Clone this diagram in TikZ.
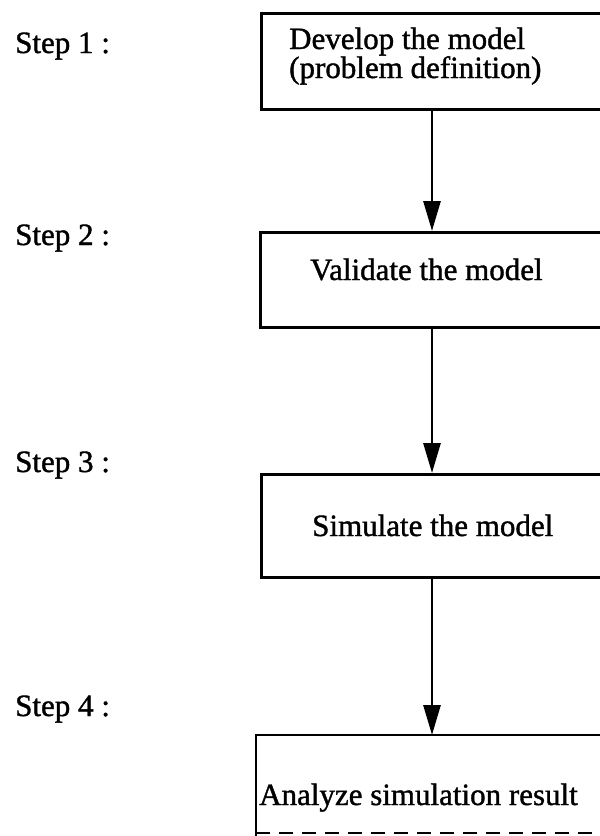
\documentclass[tikz,border=0pt]{standalone}
\usepackage{fontspec}
\setmainfont{Liberation Serif}
\newfontfamily\inkfont{Liberation Serif}[FakeBold=1.2]
\usetikzlibrary{arrows.meta}
\begin{document}
\begin{tikzpicture}[x=1pt,y=-1pt,
  stepbox/.style={rectangle, line width=2.8pt, minimum width=380pt, anchor=north west, inner sep=0pt},
  boxtext/.style={anchor=base west, inner sep=0pt, font=\inkfont\fontsize{31}{28}\selectfont},
  steplabel/.style={anchor=base west, inner sep=0pt, font=\inkfont\fontsize{31}{28}\selectfont},
  flow/.style={line width=2.8pt, -{Triangle[width=17pt,length=30pt]}}]
\useasboundingbox (0,0) rectangle (600,836);
\clip (0,0) rectangle (600,836);
\fill[white] (0,0) rectangle (600,836);

% vertical axis the arrows run along
\coordinate (spine) at (432,0);

% process boxes (they run on past the right margin)
\node[stepbox, draw, minimum height=96pt]  (b1) at (260,12)  {};
\node[stepbox, draw, minimum height=95pt]  (b2) at (259,231) {};
\node[stepbox, draw, minimum height=103pt] (b3) at (260,473) {};
\node[stepbox, minimum height=95pt]        (b4) at (256,735) {};
\draw[line width=2.8pt] ([yshift=-6pt]b4.south west) -- (b4.north west) -- (b4.north east);
\draw[line width=2.6pt, dash pattern=on 14pt off 9pt] (b4.south west) -- (b4.south east);

% box texts
\node[boxtext] (t1a) at (289,49)  {Develop the model};
\node[boxtext] (t1b) at (289,78)  {(problem definition)};
\node[boxtext] (t2)  at (310,280) {Validate the model};
\node[boxtext] (t3)  at (312,536) {Simulate the model};
\node[boxtext] (t4)  at (259,805) {Analyze simulation result};

% step labels
\node[steplabel] (s1) at (15,53)  {Step 1 :};
\node[steplabel] (s2) at (15,245) {Step 2 :};
\node[steplabel] (s3) at (15,472) {Step 3 :};
\node[steplabel] (s4) at (15,716) {Step 4 :};

% connectors
\draw[flow] (b1.south -| spine) -- (b2.north -| spine);
\draw[flow] (b2.south -| spine) -- (b3.north -| spine);
\draw[flow] (b3.south -| spine) -- (b4.north -| spine);
\end{tikzpicture}
\end{document}
